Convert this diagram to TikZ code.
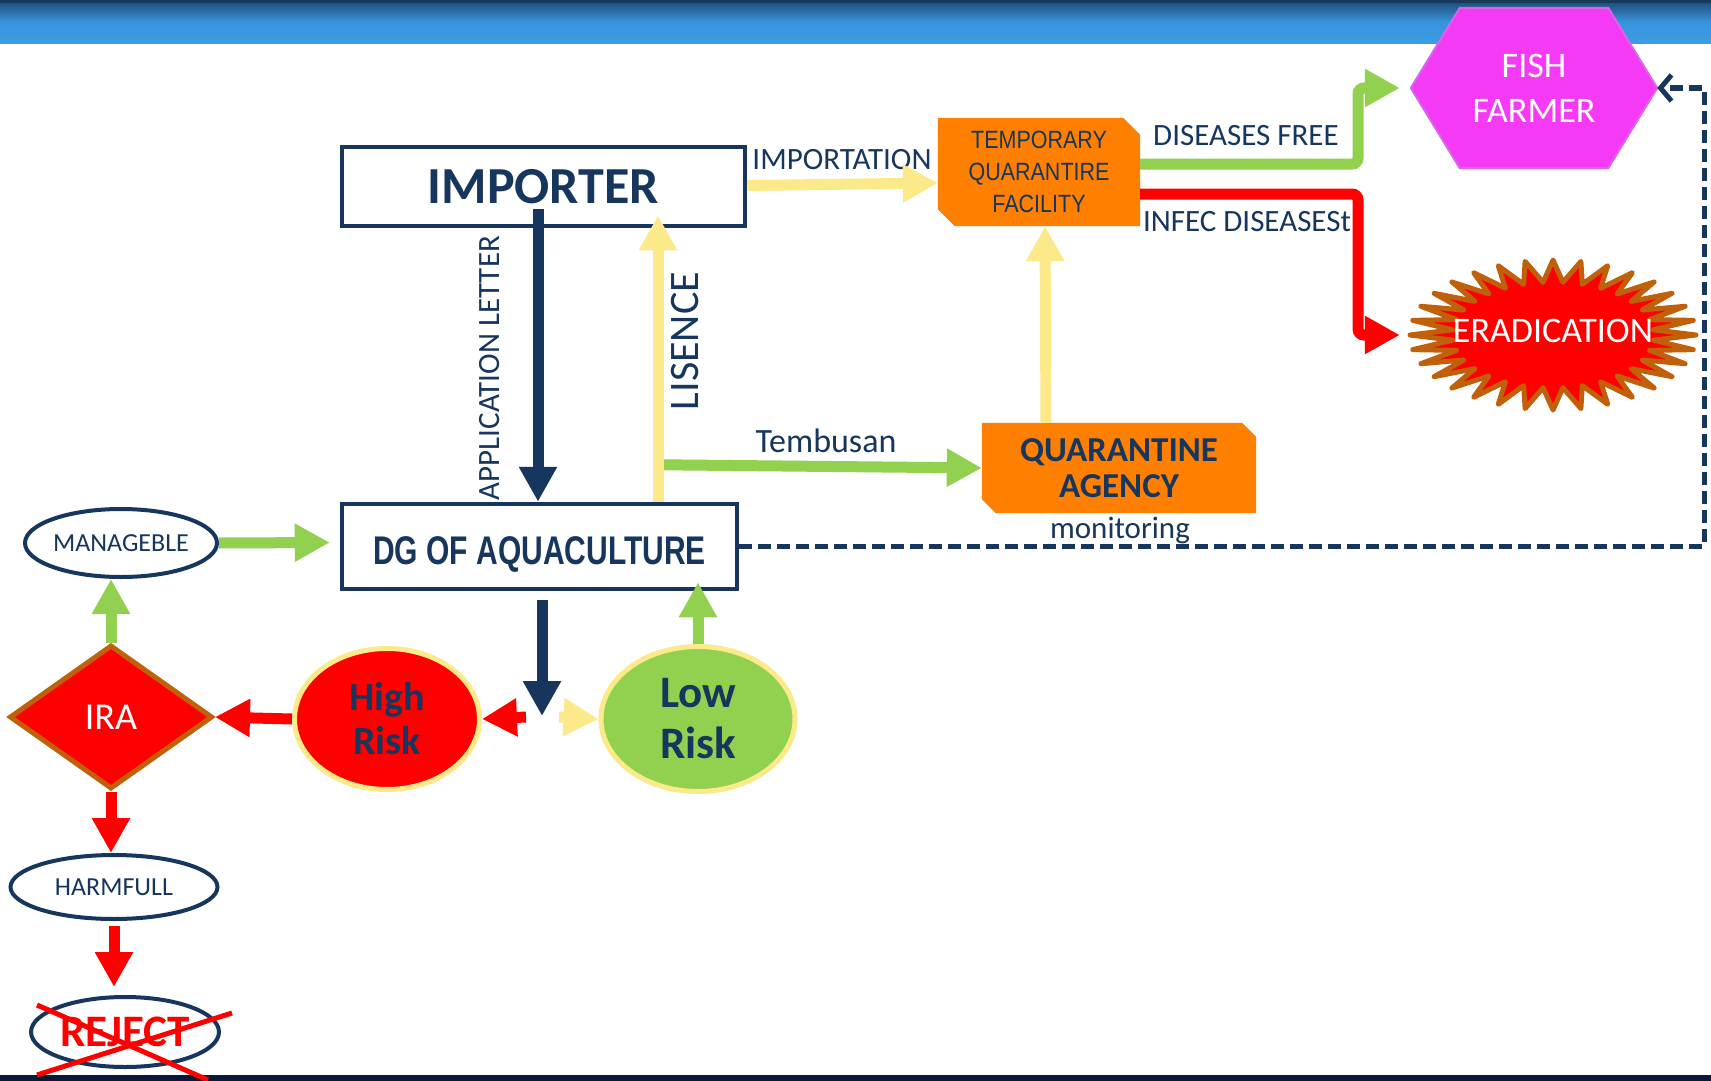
\documentclass[tikz,border=0pt]{standalone}
\usepackage{fontspec}
\setmainfont{Carlito}
\newfontfamily\arialfont{Liberation Sans}
\usepackage{graphicx}
\usetikzlibrary{arrows.meta,shapes.geometric,backgrounds,calc}

\definecolor{navy}{HTML}{17365D}
\definecolor{paleyellow}{HTML}{FBE98A}
\definecolor{leafgreen}{HTML}{92D050}
\definecolor{alarmred}{HTML}{FF0000}
\definecolor{boxorange}{HTML}{FF8000}
\definecolor{farmpink}{HTML}{F43AF4}
\definecolor{farmedge}{HTML}{D864E8}
\definecolor{rust}{HTML}{C0600B}
\definecolor{barTop}{HTML}{1D4872}
\definecolor{barMid}{HTML}{3794DC}
\definecolor{barBot}{HTML}{3C9CE4}
\definecolor{footline}{HTML}{0B1736}

\newcommand\fsz[2]{\fontsize{#1}{#2}\selectfont}
% filled rectangle with snipped top-right and bottom-left corners
\newcommand\snipfill[3]{%
  \fill[#2] (#1.north west) -- ([xshift=-#3]#1.north east) -- ([yshift=-#3]#1.north east)
    -- (#1.south east) -- ([xshift=#3]#1.south west) -- ([yshift=#3]#1.south west) -- cycle;}

\begin{document}
\begin{tikzpicture}[x=1pt, y=-1pt,
  box/.style={draw=navy, line width=4.5pt, fill=white, rectangle, inner sep=0pt},
  lbl/.style={text=navy, inner sep=0pt, font=\fsz{31}{37}},
  oval/.style={ellipse, draw=navy, line width=4pt, fill=white, inner sep=0pt, text=navy, font=\fsz{26}{31}},
  riskoval/.style={ellipse, draw=paleyellow, line width=5pt, inner sep=0pt, text=navy, align=center},
  flow/.style={line width=11pt, -{Triangle[length=35pt,width=36pt]}},
  dashlink/.style={draw=navy, line width=5pt, dash pattern=on 13pt off 6pt, -{Straight Barb[length=11pt,width=26pt]}}
]
\useasboundingbox (0,0) rectangle (1711,1081);

% page background, title band and foot line
\begin{scope}[on background layer]
  \fill[white] (0,0) rectangle (1711,1081);
  \shade[top color=barTop, bottom color=barBot, middle color=barMid] (0,0) rectangle (1711,44);
  \fill[barTop!80!black] (0,0) rectangle (1711,3);
  \fill[footline] (0,1075) rectangle (1711,1081);
\end{scope}

% main boxes
\node[box, minimum width=403pt, minimum height=79pt, text=navy, font=\fsz{52}{60}\bfseries] (imp) at (543.5,186.5) {IMPORTER};
\node[box, minimum width=395pt, minimum height=85pt, text=navy] (dg) at (539.5,546.5)
  {\raisebox{-8pt}[\height][\depth]{\scalebox{0.75}[1]{\arialfont\bfseries\fsz{40}{48}DG OF AQUACULTURE}}};

\node[inner sep=0pt, minimum width=202pt, minimum height=108pt, text=navy, align=center, font=\arialfont\fsz{25}{32}] (tqf) at (1039,172)
  {\scalebox{.86}[1]{TEMPORARY}\\\scalebox{.86}[1]{QUARANTIRE}\\\scalebox{.86}[1]{FACILITY}};
\node[inner sep=0pt, minimum width=274pt, minimum height=90pt, text=navy, align=center, font=\fsz{35}{36}\bfseries] (qa) at (1119,468) {QUARANTINE\\AGENCY};
\node[lbl] (mon) at (1120,530) {monitoring};

\node[inner sep=0pt, minimum width=246pt, minimum height=160pt, text=white, align=center, font=\fsz{36}{45}] (farmer) at (1534,88) {FISH\\FARMER};

\node[inner sep=0pt, minimum width=290pt, minimum height=154pt, text=white, font=\fsz{36}{43}] (erad) at (1553,335) {\raisebox{4pt}[\height][\depth]{ERADICATION}};

% decision side
\node[oval, minimum width=184pt, minimum height=68pt] (man) at (121,543) {MANAGEBLE};
\node[diamond, fill=alarmred, draw=rust, line width=5pt, minimum width=203pt, minimum height=144pt,
  inner sep=0pt, text=white, font=\fsz{38}{45}] (ira) at (111,717) {IRA};
\node[oval, minimum width=207pt, minimum height=64pt] (harm) at (114,887) {HARMFULL};
\node[oval, minimum width=188pt, minimum height=70pt, text=alarmred, font=\fsz{45}{50}\bfseries] (rej) at (125,1032) {REJECT};

\node[riskoval, fill=alarmred, minimum width=185pt, minimum height=141pt, font=\fsz{40}{44}\bfseries] (hr) at (387,719) {High\\Risk};
\node[riskoval, fill=leafgreen, minimum width=194pt, minimum height=145pt, font=\fsz{45}{51}\bfseries] (lr) at (698,719) {Low\\Risk};

\coordinate (split) at (542,716);
\coordinate (rail) at (1704,0);
\coordinate (elbow) at (1358,0);

% shapes drawn behind their texts
\begin{scope}[on background layer]
  \filldraw[fill=farmpink, draw=farmedge, line width=2pt] (farmer.west) -- ([xshift=49pt]farmer.north west)
    -- ([xshift=-49pt]farmer.north east) -- (farmer.east) -- ([xshift=-49pt]farmer.south east)
    -- ([xshift=49pt]farmer.south west) -- cycle;
  \snipfill{tqf}{boxorange}{17pt}
  \snipfill{qa}{boxorange}{14pt}
  % 32-point burst around the eradication label (radius alternates outer/inner)
  \filldraw[fill=alarmred, draw=rust, line width=5pt, line join=round]
    plot[samples=65, domain=0:64, variable=\k]
      ({1553+(122+21*cos(\k*180))*cos(\k*45/8)},
       {335+(64+11*cos(\k*180))*sin(\k*45/8)}) -- cycle;
\end{scope}

% connector labels
\node[lbl] (limp) at (842,160) {IMPORTATION};
\node[lbl] (lfree) at (1246,136) {DISEASES FREE};
\node[lbl] (linf) at (1247,222) {INFEC DISEASESt};
\node[lbl, font=\fsz{34}{40}] (ltem) at (826,441) {Tembusan};
\node[lbl, rotate=90] (lapp) at (490,368) {APPLICATION LETTER};
\node[lbl, rotate=90, font=\fsz{42}{50}] (llic) at (685,341) {LISENCE};

% connectors
\draw[flow, navy] ($(imp.south)+(-5.5,-19)$) -- ($(dg.north)+(-1.5,0)$);
\draw[flow, leafgreen] ($(dg.north)+(118.5,-37)$) -- (qa.west);
\draw[flow, paleyellow] ($(dg.north)+(118.5,0)$) -- ($(imp.south)+(114.5,-13)$);
\draw[flow, paleyellow] ($(imp.east)+(0,-1)$) -- ($(tqf.west)+(0,11)$);
\draw[flow, paleyellow] ($(qa.north)+(-73,0)$) -- ($(tqf.south)+(6,0)$);
\draw[flow, leafgreen, rounded corners=6pt] ($(tqf.east)+(0,-8)$) -| (elbow |- farmer.west) -- ($(farmer.west)+(-11,0)$);
\draw[flow, alarmred, rounded corners=6pt] ($(tqf.east)+(0,22)$) -| (elbow |- erad.west) -- ($(erad.west)+(-8,0)$);
\draw[dashlink] (dg.east) -- (dg.east -| rail) |- (farmer.east);

\draw[flow, leafgreen] (man.east) -- ($(dg.west)+(-10,-4)$);
\draw[flow, leafgreen] (ira.north) -- (ira.north |- man.south);
\draw[flow, alarmred] (hr.west) -- (ira.east);
\draw[flow, alarmred] (ira.south) -- (ira.south |- harm.north);
\draw[flow, alarmred] ($(harm.south)+(0,5)$) -- ($(harm.south |- rej.north)+(0,-8)$);

\draw[flow, navy] ($(dg.south)+(2.5,9)$) -- (split);
\draw[flow, alarmred] ($(split)+(-16,1)$) -- (hr.east);
\draw[flow, paleyellow] ($(split)+(17,1)$) -- (lr.west);
\draw[flow, leafgreen] (lr.north) -- ($(lr.north |- dg.south)+(0,-9)$);

% crossing out the rejection
\draw[alarmred, line width=5pt] ($(rej)+(-88,-27)$) -- ($(rej)+(83,48)$);
\draw[alarmred, line width=5pt] ($(rej)+(-88,43)$) -- ($(rej)+(107,-19)$);
\end{tikzpicture}
\end{document}
